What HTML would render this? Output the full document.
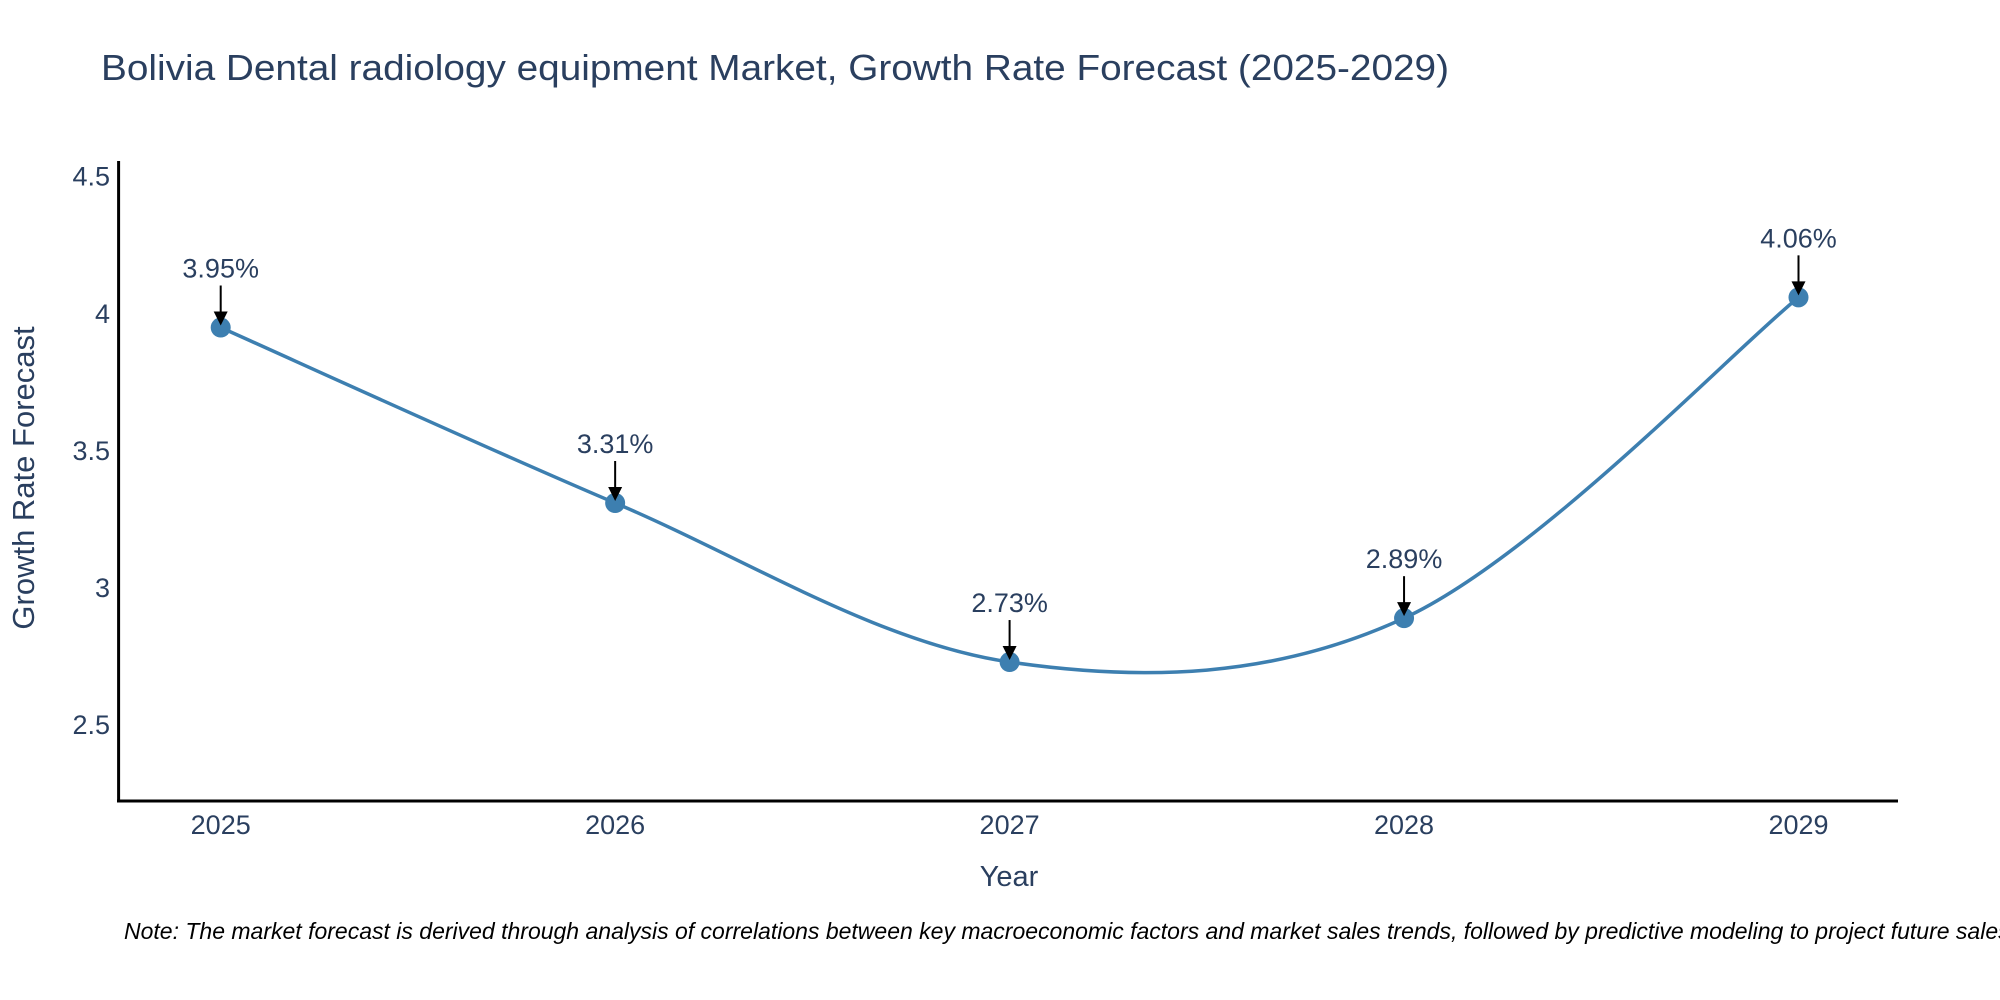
<!DOCTYPE html>
<html><head><meta charset="utf-8"><style>
body{margin:0;background:#fff;}
svg{display:block;font-family:"Liberation Sans","DejaVu Sans",sans-serif;}
</style></head><body>
<svg id="chart" width="2000" height="1000" viewBox="0 0 2000 1000">
<text x="101" y="80" font-size="36" fill="#2a3f5f" textLength="1348" lengthAdjust="spacingAndGlyphs">Bolivia Dental radiology equipment Market, Growth Rate Forecast (2025-2029)</text>
<g id="yticks"></g>
<g id="xticks"></g>
<line x1="118.6" y1="161" x2="118.6" y2="802" stroke="#000" stroke-width="3"/>
<line x1="117" y1="801" x2="1898" y2="801" stroke="#000" stroke-width="3"/>
<text transform="translate(34,478) rotate(-90)" text-anchor="middle" font-size="31" fill="#2a3f5f">Growth Rate Forecast</text>
<text x="1009" y="886" text-anchor="middle" font-size="29" fill="#2a3f5f">Year</text>
<path id="line" fill="none" stroke="#3d7fb0" stroke-width="3.5"/>
<g id="points"></g>
<text x="124" y="939" font-size="23" font-style="italic" fill="#000">Note: The market forecast is derived through analysis of correlations between key macroeconomic factors and market sales trends, followed by predictive modeling to project future sales.</text>
</svg>
<script>
const years = [2025, 2026, 2027, 2028, 2029];
const rates = [3.95, 3.31, 2.73, 2.89, 4.06];
const labels = ["3.95%", "3.31%", "2.73%", "2.89%", "4.06%"];
const yTicks = [2.5, 3, 3.5, 4, 4.5];

const NS = "http://www.w3.org/2000/svg";
const xs = y => 220.7 + (y - 2025) * 394.45;
const ys = v => 313.8 + (4 - v) * 274.2;
function mk(tag, attrs, parent, txt){
  const e = document.createElementNS(NS, tag);
  for (const k in attrs) e.setAttribute(k, attrs[k]);
  if (txt !== undefined) e.textContent = txt;
  parent.appendChild(e);
  return e;
}
const yg = document.getElementById('yticks');
yTicks.forEach(t => {
  const e = mk('text', {x: 110, y: ys(t) + 9, 'text-anchor': 'end', 'font-size': 27, fill: '#2a3f5f'}, yg, String(t));
  
  
});
const xg = document.getElementById('xticks');
years.forEach(y => {
  const e = mk('text', {x: xs(y), y: 834, 'text-anchor': 'middle', 'font-size': 27, fill: '#2a3f5f'}, xg, String(y));
  
  
});
const P = years.map((y, i) => [xs(y), ys(rates[i])]);
let d = `M${P[0][0]},${P[0][1]}`;
const s = 0.5/1.5;
for (let i = 0; i < P.length - 1; i++) {
  const p0 = P[i-1] || P[i], p1 = P[i], p2 = P[i+1], p3 = P[i+2] || P[i+1];
  const c1 = [p1[0] + (p2[0]-p0[0])*s/2, p1[1] + (p2[1]-p0[1])*s/2];
  const c2 = [p2[0] - (p3[0]-p1[0])*s/2, p2[1] - (p3[1]-p1[1])*s/2];
  d += ` C${c1[0]},${c1[1]} ${c2[0]},${c2[1]} ${p2[0]},${p2[1]}`;
}
document.getElementById('line').setAttribute('d', d);
const pg = document.getElementById('points');
P.forEach((p, i) => {
  const c = mk('circle', {cx: p[0], cy: p[1], r: 10, fill: '#3d7fb0'}, pg);
  
  
  const l = mk('line', {x1: p[0], y1: p[1] - 42, x2: p[0], y2: p[1] - 14, stroke: '#000', 'stroke-width': 2}, pg);
  
  
  const a = mk('polygon', {points: `${p[0]-7},${p[1]-16} ${p[0]+7},${p[1]-16} ${p[0]},${p[1]-2}`, fill: '#000'}, pg);
  
  
  const t = mk('text', {x: p[0], y: p[1] - 50, 'text-anchor': 'middle', 'font-size': 27, fill: '#2a3f5f'}, pg, labels[i]);
  
  
});
</script>
</body></html>
